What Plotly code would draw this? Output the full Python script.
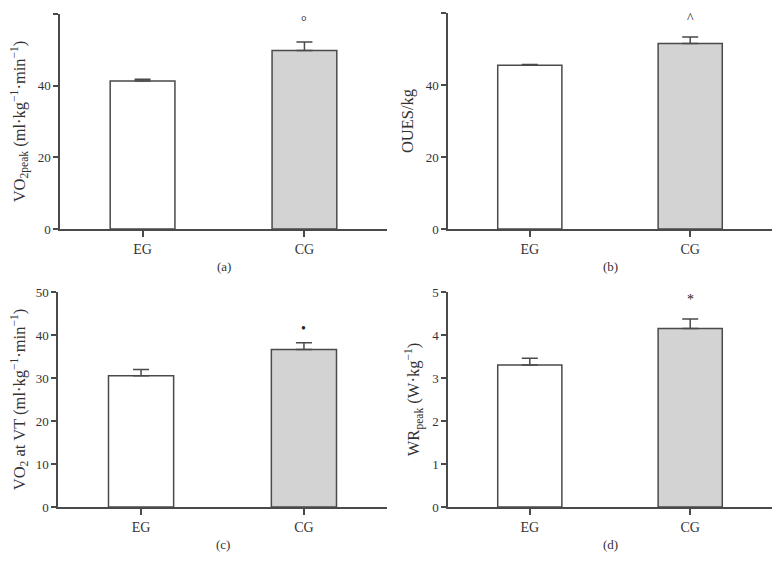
import plotly.graph_objects as go

groups = ["EG", "CG"]
vo2peak = [41.3, 49.8]
vo2peak_err = [0.5, 2.4]
oues = [45.5, 51.5]
oues_err = [0.2, 1.8]
vo2vt = [30.5, 36.6]
vo2vt_err = [1.5, 1.6]
wrpeak = [3.30, 4.15]
wrpeak_err = [0.16, 0.22]
sig_marks = ["°", "^", "•", "*"]
sig_y = [57.8, 58.5, 41.6, 4.82]
y_titles = [
    "VO<sub>2peak</sub> (ml·kg<sup>−1</sup>·min<sup>−1</sup>)",
    "OUES/kg",
    "VO<sub>2</sub> at VT (ml·kg<sup>−1</sup>·min<sup>−1</sup>)",
    "WR<sub>peak</sub> (W·kg<sup>−1</sup>)",
]
y_ranges = [[0, 60], [0, 60], [0, 50], [0, 5]]
y_dticks = [20, 20, 10, 1]
panel_labels = ["(a)", "(b)", "(c)", "(d)"]

W, H = 781, 572
OFF = 8  # page body margin offset
# pixel boxes on the page: (x0, x1, ytop, ybottom)
boxes = [(60, 387, 14, 229), (448, 772, 13, 229), (58, 387, 292, 507), (448, 772, 292, 507)]

values = [vo2peak, oues, vo2vt, wrpeak]
errs = [vo2peak_err, oues_err, vo2vt_err, wrpeak_err]

FONT = "Liberation Serif"
AX = "#4a4a4a"
fig = go.Figure()
layout = dict(
    width=W, height=H, margin=dict(l=0, r=0, t=0, b=0, autoexpand=False),
    paper_bgcolor="white", plot_bgcolor="white", showlegend=False,
    font=dict(family=FONT, size=13, color="#333333"),
)
annotations = []
for i in range(4):
    x0, x1, yt, yb = [v - OFF for v in boxes[i]]
    xn = "x" if i == 0 else f"x{i+1}"
    yn = "y" if i == 0 else f"y{i+1}"
    xk = "xaxis" if i == 0 else f"xaxis{i+1}"
    yk = "yaxis" if i == 0 else f"yaxis{i+1}"
    fig.add_trace(go.Bar(
        x=groups, y=values[i], width=0.40,
        marker=dict(color=["white", "#d3d3d3"], line=dict(color=AX, width=1.5)),
        error_y=dict(type="data", symmetric=False, array=errs[i], arrayminus=[0, 0],
                     color=AX, thickness=1.5, width=8),
        xaxis=xn, yaxis=yn,
    ))
    layout[xk] = dict(
        domain=[x0 / W, x1 / W], anchor=yn, range=[-0.51, 1.51], automargin=False,
        showline=True, linecolor=AX, linewidth=1.5, ticks="outside", ticklen=6,
        tickcolor=AX, tickwidth=1.5, showgrid=False, tickfont=dict(size=14),
    )
    layout[yk] = dict(
        domain=[1 - yb / H, 1 - yt / H], anchor=xn, range=y_ranges[i], dtick=y_dticks[i],
        automargin=False,
        showline=True, linecolor=AX, linewidth=1.5, ticks="outside", ticklen=5,
        tickcolor=AX, tickwidth=1.5, showgrid=False, zeroline=False,
        title=dict(text=y_titles[i], font=dict(size=16.5), standoff=8),
        tickfont=dict(size=13),
    )
    annotations.append(dict(x="CG", y=sig_y[i], xref=xn, yref=yn, text=sig_marks[i],
                            showarrow=False, font=dict(size=14, color="#222")))
    annotations.append(dict(x=(x0 + x1) / 2 / W, y=1 - (yb + 37) / H, xref="paper", yref="paper",
                            xanchor="center", yanchor="middle",
                            text=panel_labels[i], showarrow=False, font=dict(size=13)))
layout["annotations"] = annotations
fig.update_layout(**layout)
fig.write_html("out.html")
